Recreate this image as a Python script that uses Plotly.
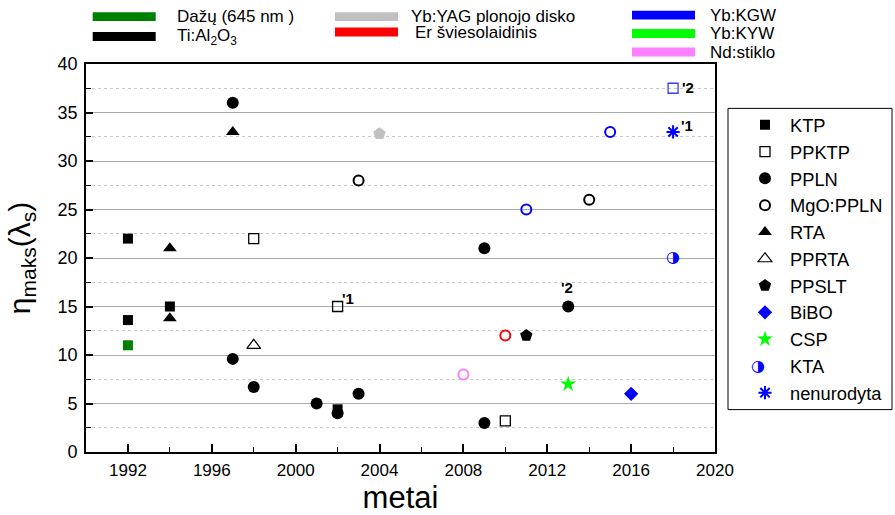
import plotly.graph_objects as go

# ---- data: year of report vs. maximum efficiency ----
ktp_year = [1992, 1992, 1994, 2002, 1992]
ktp_eff = [22, 13.6, 15, 4.4, 11]
ktp_col = ["black", "black", "black", "black", "#008000"]

ppktp_year = [1998, 2002, 2010, 2018]
ppktp_eff = [22, 15, 3.2, 37.5]
ppktp_col = ["black", "black", "black", "#3b3bff"]

ppln_year = [1997, 1997, 1998, 2001, 2002, 2003, 2009, 2009, 2013]
ppln_eff = [36, 9.6, 6.7, 5, 4, 6, 21, 3, 15]

mgo_year = [2003, 2014, 2011, 2015, 2010, 2008]
mgo_eff = [28, 26, 25, 33, 12, 8]
mgo_col = ["black", "black", "#0000ff", "#0000ff", "#ff0000", "#ff80ff"]

rta_year = [1997, 1994, 1994]
rta_eff = [33, 21, 13.8]

pprta_year = [1998]
pprta_eff = [11]

ppslt_year = [2011, 2004]
ppslt_eff = [12, 32.8]
ppslt_col = ["black", "#c0c0c0"]

bibo_year = [2016]
bibo_eff = [6]

csp_year = [2013]
csp_eff = [7]

kta_year = [2018]
kta_eff = [20]

other_year = [2018]
other_eff = [33]

# footnote marks next to points
note_text = ["'1", "'2", "'2", "'1"]
note_year = [2002.5, 2012.95, 2018.7, 2018.67]
note_eff = [15.8, 17.0, 37.6, 33.7]

# pump-laser colour key (label, colour)
pump_labels = ["Dažų (645 nm )", "Ti:Al<sub>2</sub>O<sub>3</sub>",
               "Yb:YAG plonojo disko", "Er šviesolaidinis",
               "Yb:KGW", "Yb:KYW", "Nd:stiklo"]
pump_colors = ["#008000", "#000000", "#c0c0c0", "#ff0000",
               "#0000ff", "#00ff00", "#ff80ff"]

# ---- layout geometry (pixels) ----
W, H = 895, 515
L, R, T, B = 86, 715, 63.5, 452.5
FONT = "Liberation Sans, Arial, sans-serif"
LEG_TOP, LEG_STEP = 106, 26.8


def px_x(p):
    return (p - L) / (R - L)


def px_y(p):
    return (B - p) / (B - T)


fig = go.Figure()


def add(name, x, y, symbol, color, size, lw=0, legend=True):
    fig.add_trace(go.Scatter(
        x=x, y=y, mode="markers", name=name, showlegend=legend,
        marker=dict(symbol=symbol, color=color, size=size,
                    line=dict(width=lw, color=color))))


add("KTP", ktp_year, ktp_eff, "square", ktp_col, 10)
add("PPKTP", ppktp_year, ppktp_eff, "square-open", ppktp_col, 10, 1.3)
add("PPLN", ppln_year, ppln_eff, "circle", "black", 12)
add("MgO:PPLN", mgo_year, mgo_eff, "circle-open", mgo_col, 10, 2)
add("RTA", rta_year, rta_eff, "triangle-up", "black", 12)
add("PPRTA", pprta_year, pprta_eff, "triangle-up-open", "black", 12, 1.2)
add("PPSLT", ppslt_year, ppslt_eff, "pentagon", ppslt_col, 13)
add("BiBO", bibo_year, bibo_eff, "diamond", "#0000ff", 11)
add("CSP", csp_year, csp_eff, "star", "#00ff00", 12)
# KTA: half-filled circle glyph; its legend entry gets the glyph via annotation
fig.add_trace(go.Scatter(x=[None], y=[None], mode="markers", name="KTA",
                         marker=dict(symbol="circle", color="rgba(0,0,0,0)", size=11)))
fig.add_trace(go.Scatter(x=kta_year, y=kta_eff, mode="text", text=["◑"],
                         textfont=dict(family="DejaVu Sans", size=16, color="#0000ff"),
                         textposition="middle center", showlegend=False))
add("nenurodyta", other_year, other_eff, "asterisk-open", "#0000ff", 11, 2)

# half-filled circle in the legend row of KTA (10th row)
fig.add_annotation(xref="paper", yref="paper", x=px_x(757.5),
                   y=px_y(LEG_TOP + 19 + 9 * LEG_STEP), text="◑", showarrow=False,
                   xanchor="center", yanchor="middle",
                   font=dict(family="DejaVu Sans", size=16, color="#0000ff"))

# footnote marks
for t, xx, yy in zip(note_text, note_year, note_eff):
    fig.add_annotation(x=xx, y=yy, text="<b>%s</b>" % t, showarrow=False,
                       font=dict(family=FONT, size=15, color="black"))

# pump-laser colour key across the top
key_pos = [(92.7, 16), (92.7, 36), (335, 16), (335, 31.5),
           (632, 14.5), (632, 33), (632, 51.5)]
text_dx = [82, 82, 74, 78, 76, 76, 76]
for lab, col, (bx, by), dx in zip(pump_labels, pump_colors, key_pos, text_dx):
    fig.add_shape(type="rect", xref="paper", yref="paper",
                  x0=px_x(bx), x1=px_x(bx + 63), y0=px_y(by + 4.5), y1=px_y(by - 4.5),
                  fillcolor=col, line=dict(width=0))
    fig.add_annotation(xref="paper", yref="paper", x=px_x(bx + dx), y=px_y(by),
                       text=lab, showarrow=False, xanchor="left", yanchor="middle",
                       font=dict(family=FONT, size=17, color="black"))

# legend frame
fig.add_shape(type="rect", xref="paper", yref="paper",
              x0=px_x(728), x1=px_x(892), y0=px_y(410), y1=px_y(108),
              line=dict(color="black", width=1), fillcolor="rgba(0,0,0,0)")

fig.update_layout(
    width=W, height=H,
    margin=dict(l=L, r=W - R, t=T, b=H - B, autoexpand=False),
    paper_bgcolor="white", plot_bgcolor="white",
    font=dict(family=FONT, size=17, color="black"),
    legend=dict(x=px_x(740), y=px_y(LEG_TOP), xanchor="left", yanchor="top",
                bgcolor="rgba(0,0,0,0)", borderwidth=0,
                font=dict(family=FONT, size=18.3), itemwidth=40,
                tracegroupgap=0),
    xaxis=dict(range=[1990, 2020], tick0=1992, dtick=4, ticks="inside",
               ticklen=8, tickwidth=1.5, tickcolor="black",
               showgrid=False, zeroline=False, automargin=False,
               showline=True, linecolor="black", linewidth=1.8, mirror=True,
               minor=dict(tick0=1990, dtick=2, ticks="inside", ticklen=5,
                          tickwidth=1.2, tickcolor="black"),
               tickfont=dict(size=17), ticklabelstandoff=2,
               title=dict(text="metai", font=dict(size=31), standoff=15)),
    yaxis=dict(range=[0, 40], dtick=5, ticks="inside", ticklen=7,
               tickwidth=1.5, tickcolor="black", automargin=False,
               showgrid=True, gridcolor="#a8a8a8", gridwidth=1, zeroline=False,
               showline=True, linecolor="black", linewidth=1.8, mirror=True,
               minor=dict(dtick=2.5, ticks="inside", ticklen=5, tickwidth=1.2,
                          tickcolor="black", showgrid=True, gridcolor="#c8c8c8",
                          griddash="dot", gridwidth=1),
               tickfont=dict(size=18), ticklabelstandoff=3,
               title=dict(text="η<sub>maks</sub>(λ<sub>s</sub>)",
                          font=dict(size=30), standoff=18)),
)

fig.write_html("out.html")
